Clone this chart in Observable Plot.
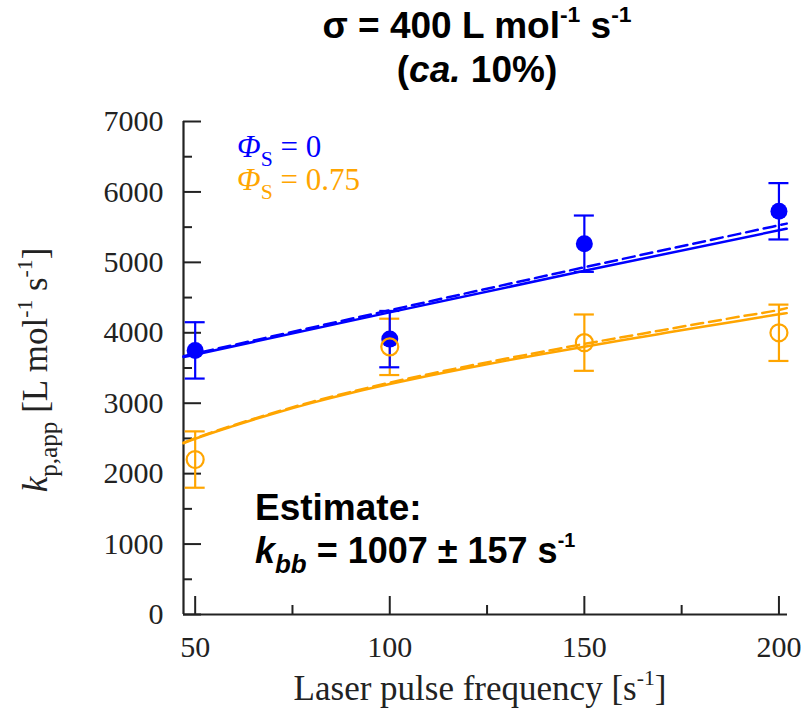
<!DOCTYPE html>
<html><head><meta charset="utf-8">
<script src="https://cdn.jsdelivr.net/npm/d3@7"></script>
<script src="https://cdn.jsdelivr.net/npm/@observablehq/plot@0.6"></script>
<style>body{margin:0;background:#fff} svg{display:block} svg text.tl{font-family:'Liberation Serif',serif !important;font-variant:normal !important}</style>
</head><body><div id="chart"></div>
<script>
// ---- data ----
const freq = [50, 100, 150, 200];
const kpPhi0 = [3750, 3910, 5265, 5725];      // Φ_S = 0 (filled blue)
const kpPhi075 = [2200, 3800, 3860, 4000];    // Φ_S = 0.75 (open orange)
const sigma = 400;                             // error bars ±σ

const fitXPhi0 = [47, 100, 150, 202];
const fitPhi0Solid = [3655, 4290, 4880, 5478];
const fitPhi0Dashed = [3668, 4320, 4930, 5550];

const fitXPhi075 = [47, 50, 60, 70, 80, 90, 100, 110, 120, 130, 140, 150, 160, 170, 180, 190, 200, 202];
const fitPhi075Solid = [2432, 2495, 2680, 2850, 3005, 3145, 3272, 3390, 3500, 3605, 3705, 3802, 3897, 3990, 4082, 4172, 4262, 4279];
const fitPhi075Dashed = [2440, 2503, 2690, 2862, 3019, 3161, 3292, 3413, 3526, 3634, 3738, 3842, 3940, 4037, 4134, 4230, 4325, 4350];

const xMajor = [50, 100, 150, 200];
const xMinor = [75, 125, 175];
const yMajor = [0, 1000, 2000, 3000, 4000, 5000, 6000, 7000];
const yMinor = [500, 1500, 2500, 3500, 4500, 5500, 6500];
const xDomain = [47, 202.2];
const yDomain = [0, 7000];

// ---- styling ----
const BLUE = "#0000ff";
const ORANGE = "#ffa500";
const AXIS = "#222";
const SERIF = "Liberation Serif";
const SANS = "Liberation Sans";
const W = 807, H = 717, mT = 121, mB = 103, mL = 183, mR = 20;
const innerW = W - mL - mR, innerH = H - mT - mB;

const pts0 = freq.map((x, i) => ({x, y: kpPhi0[i]}));
const pts1 = freq.map((x, i) => ({x, y: kpPhi075[i]}));
const toXY = (xs, ys) => xs.map((x, i) => ({x, y: ys[i]}));

const plot = Plot.plot({
  width: W, height: H,
  marginTop: mT, marginBottom: mB, marginLeft: mL, marginRight: mR,
  x: {domain: xDomain, axis: null},
  y: {domain: yDomain, axis: null},
  style: {background: "white"},
  marks: [
    // inward ticks
    Plot.tickX(xMajor, {x: d => d, insetTop: innerH - 18, stroke: AXIS, strokeWidth: 2}),
    Plot.tickX(xMinor, {x: d => d, insetTop: innerH - 9, stroke: AXIS, strokeWidth: 2}),
    Plot.tickY(yMajor, {y: d => d, insetRight: innerW - 18, stroke: AXIS, strokeWidth: 2}),
    Plot.tickY(yMinor, {y: d => d, insetRight: innerW - 9, stroke: AXIS, strokeWidth: 2}),
    // tick labels
    Plot.text(xMajor, {x: d => d, frameAnchor: "bottom", dy: 42, text: d => String(d), fontFamily: SERIF, fontSize: 30, fill: AXIS, className: "tl"}),
    Plot.text(yMajor, {y: d => d, frameAnchor: "left", dx: -20, textAnchor: "end", text: d => String(d), fontFamily: SERIF, fontSize: 30, fill: AXIS, className: "tl"}),
    // spines
    Plot.ruleY([yDomain[0]], {stroke: AXIS, strokeWidth: 2.2}),
    Plot.ruleX([xDomain[0]], {stroke: AXIS, strokeWidth: 2.2}),
    // fits
    Plot.line(toXY(fitXPhi075, fitPhi075Dashed), {x: "x", y: "y", stroke: ORANGE, strokeWidth: 2.5, strokeDasharray: "12,6", curve: "monotone-x"}),
    Plot.line(toXY(fitXPhi075, fitPhi075Solid), {x: "x", y: "y", stroke: ORANGE, strokeWidth: 2.5, curve: "monotone-x"}),
    Plot.line(toXY(fitXPhi0, fitPhi0Dashed), {x: "x", y: "y", stroke: BLUE, strokeWidth: 2.5, strokeDasharray: "12,6", curve: "monotone-x"}),
    Plot.line(toXY(fitXPhi0, fitPhi0Solid), {x: "x", y: "y", stroke: BLUE, strokeWidth: 2.5, curve: "monotone-x"}),
    // error bars
    Plot.ruleX(pts1, {x: "x", y1: d => d.y - sigma, y2: d => d.y + sigma, stroke: ORANGE, strokeWidth: 2.2}),
    Plot.ruleY(pts1, {y: d => d.y - sigma, x1: "x", x2: "x", insetLeft: -10, insetRight: -10, stroke: ORANGE, strokeWidth: 2.2}),
    Plot.ruleY(pts1, {y: d => d.y + sigma, x1: "x", x2: "x", insetLeft: -10, insetRight: -10, stroke: ORANGE, strokeWidth: 2.2}),
    Plot.ruleX(pts0, {x: "x", y1: d => d.y - sigma, y2: d => d.y + sigma, stroke: BLUE, strokeWidth: 2.2}),
    Plot.ruleY(pts0, {y: d => d.y - sigma, x1: "x", x2: "x", insetLeft: -10, insetRight: -10, stroke: BLUE, strokeWidth: 2.2}),
    Plot.ruleY(pts0, {y: d => d.y + sigma, x1: "x", x2: "x", insetLeft: -10, insetRight: -10, stroke: BLUE, strokeWidth: 2.2}),
    // points
    Plot.dot(pts0, {x: "x", y: "y", r: 8.5, fill: BLUE, stroke: "none"}),
    Plot.dot(pts1, {x: "x", y: "y", r: 8.5, fill: "none", stroke: ORANGE, strokeWidth: 2.2})
  ]
});

document.getElementById("chart").appendChild(plot);
const svg = d3.select(plot);
svg.selectAll("text").attr("font-family", SERIF).style("font-family", SERIF).style("font-variant", "normal");
const xs = plot.scale("x"), ys = plot.scale("y");

function rich(textSel, parts, size) {
  let cur = 0;
  for (const p of parts) {
    const off = p.sup ? -0.42 * size : p.sub ? 0.28 * size : 0;
    const ts = textSel.append("tspan").text(p.t);
    const dy = off - cur;
    if (dy) ts.attr("dy", dy);
    cur = off;
    if (p.sup || p.sub) ts.attr("font-size", size * (p.scale || 0.62));
    if (p.i) ts.attr("font-style", "italic");
    if (p.b) ts.attr("font-weight", "bold");
  }
  return textSel;
}
function addText(x, y, parts, {size, family, weight = "normal", fill = "#000", anchor = "start", transform = null}) {
  const t = svg.append("text")
    .attr("x", x).attr("y", y)
    .attr("font-family", family).style("font-family", family)
    .attr("font-size", size)
    .attr("font-weight", weight).attr("fill", fill)
    .attr("text-anchor", anchor);
  if (transform) t.attr("transform", transform);
  return rich(t, parts, size);
}

// Title
addText(477, 38, [{t: "σ = 400 L mol"}, {t: "-1", sup: true}, {t: " s"}, {t: "-1", sup: true}],
  {size: 37, family: SANS, weight: "bold", anchor: "middle"});
addText(477, 82, [{t: "("}, {t: "ca.", i: true}, {t: " 10%)"}],
  {size: 37, family: SANS, weight: "bold", anchor: "middle"});

// Legend
addText(xs.apply(60.9), ys.apply(6490), [{t: "Φ", i: true}, {t: "S", sub: true, scale: 0.7}, {t: " = 0"}],
  {size: 31, family: SERIF, fill: BLUE});
addText(xs.apply(60.9), ys.apply(6020), [{t: "Φ", i: true}, {t: "S", sub: true, scale: 0.7}, {t: " = 0.75"}],
  {size: 31, family: SERIF, fill: ORANGE});

// Annotation
addText(xs.apply(65.5), ys.apply(1340), [{t: "Estimate:"}],
  {size: 37, family: SANS, weight: "bold"});
addText(xs.apply(65.5), ys.apply(730), [{t: "k", i: true}, {t: "bb", i: true, sub: true, scale: 0.72}, {t: " = 1007 ± 157 s"}, {t: "-1", sup: true, scale: 0.55}],
  {size: 36, family: SANS, weight: "bold"});

// Axis titles
addText(480, 700, [{t: "Laser pulse frequency [s"}, {t: "-1", sup: true}, {t: "]"}],
  {size: 35, family: SERIF, fill: AXIS, anchor: "middle"});
addText(0, 0, [{t: "k", i: true}, {t: "p,app", sub: true, scale: 0.72}, {t: " [L mol"}, {t: "-1", sup: true}, {t: " s"}, {t: "-1", sup: true}, {t: "]"}],
  {size: 35, family: SERIF, fill: AXIS, anchor: "middle", transform: `translate(47,370) rotate(-90)`});
</script>
</body></html>
